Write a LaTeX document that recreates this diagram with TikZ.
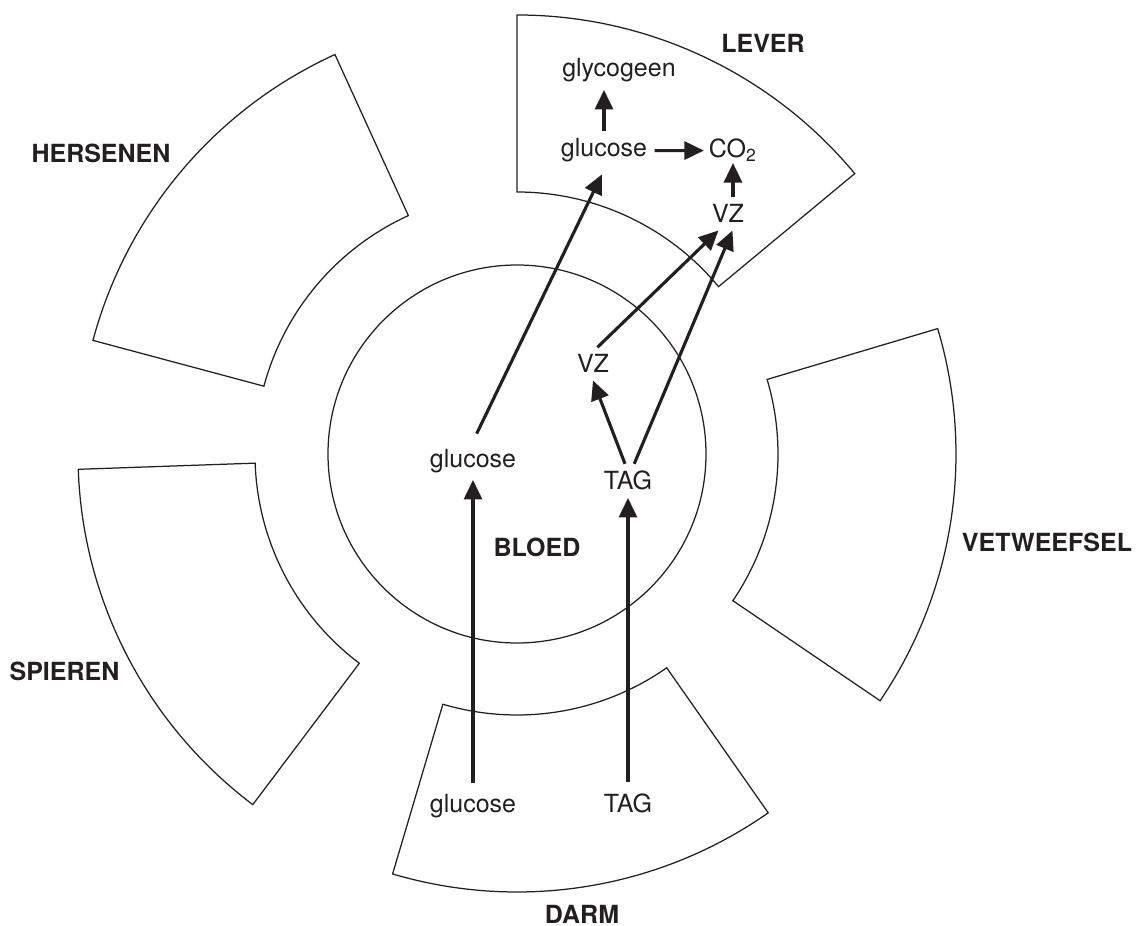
\documentclass[tikz,border=0pt]{standalone}
\usepackage{fontspec}
\setmainfont{TeX Gyre Heros}
\usepackage{xcolor}
\definecolor{cInk}{HTML}{231F20}
\usepackage{tikz}
\usetikzlibrary{arrows.meta}
\tikzset{
  organ-box/.style={draw=cInk,line width=0.5pt},
  blood-ring/.style={draw=cInk,line width=0.5pt},
  organ-name/.style={font=\bfseries,text=cInk,inner sep=0pt,anchor=base},
  met/.style={text=cInk,inner sep=3pt,outer sep=0pt,anchor=base},
  flow/.style={-{Triangle[length=7.8pt,width=7.2pt]},line width=1.25pt,draw=cInk},
}

\begin{document}
\begin{tikzpicture}[x=0.4pt,y=0.4pt]
  \useasboundingbox (-517,-471) rectangle (620,454);
  % bloed in het midden, organen als ringsegmenten
  \draw[blood-ring] (0,0) circle[radius=189];
  \draw[organ-box] (39.7:262) arc[start angle=39.7,end angle=90,radius=262]
    -- (90:439) arc[start angle=90,end angle=39.7,radius=439] -- cycle;
  \draw[organ-box] (114.5:262) arc[start angle=114.5,end angle=165,radius=262]
    -- (165:439) arc[start angle=165,end angle=114.5,radius=439] -- cycle;
  \draw[organ-box] (182:262) arc[start angle=182,end angle=233,radius=262]
    -- (233:439) arc[start angle=233,end angle=182,radius=439] -- cycle;
  \draw[organ-box] (253.5:261) arc[start angle=253.5,end angle=305,radius=261]
    -- (305:438) arc[start angle=305,end angle=253.5,radius=438] -- cycle;
  \draw[organ-box] (-34.2:261) arc[start angle=-34.2,end angle=16.6,radius=261]
    -- (16.6:439) arc[start angle=16.6,end angle=-34.2,radius=439] -- cycle;

  \node[organ-name] (lever) at (246,401) {LEVER};
  \node[organ-name] (hersenen) at (-416,291) {HERSENEN};
  \node[organ-name] (spieren) at (-452.5,-226) {SPIEREN};
  \node[organ-name] (vetweefsel) at (530,-97) {VETWEEFSEL};
  \node[organ-name] (darm) at (65,-469) {DARM};
  \node[organ-name] (bloed) at (20,-102) {BLOED};

  % lever
  \node[met] (glycogeen) at (102,377) {glycogeen};
  \node[met] (glucL) at (87,297) {glucose};
  \node[met] (co2) at (216,296) {CO\textsubscript{2}};
  \node[met] (vzL) at (211,231) {VZ};
  % bloed
  \node[met] (vzB) at (76,81) {VZ};
  \node[met] (glucB) at (-44,-13) {glucose};
  \node[met] (tagB) at (111,-36) {TAG};
  % darm
  \node[met] (glucD) at (-44,-358) {glucose};
  \node[met] (tagD) at (111,-358) {TAG};

  \draw[flow,shorten <=1.4pt] (glucD.north) -- (glucB.south);
  \draw[flow,shorten <=1.4pt] (tagD.north) -- (tagB.south);
  \draw[flow,shorten <=3.4pt,shorten >=2pt] (glucB.north) -- (glucL.south);
  \draw[flow] (tagB.100) -- (vzB.south);
  \draw[flow] (tagB.70) -- (vzL.-75);
  \draw[flow] (vzB.75) -- (vzL.-120);
  \draw[flow] (glucL.north) -- (glucL.north |- glycogeen.south);
  \draw[flow,shorten >=-1pt] (glucL.east) -- (co2.west);
  \draw[flow,shorten >=-2.5pt] (co2.south |- vzL.north) -- (co2.south);
\end{tikzpicture}
\end{document}
